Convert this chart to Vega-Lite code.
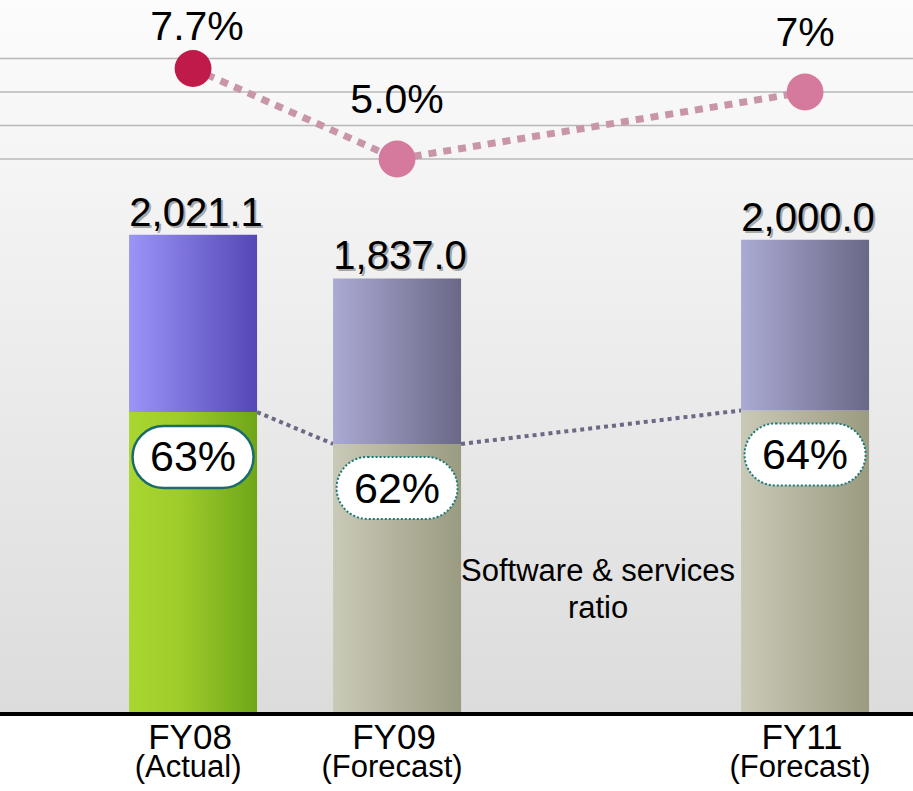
{
  "$schema": "https://vega.github.io/schema/vega-lite/v6.json",
  "width": 913,
  "height": 714,
  "autosize": {"type": "none"},
  "padding": {"left": 0, "top": 0, "right": 0, "bottom": 77},
  "background": "white",
  "config": {"view": {"stroke": null}, "font": "Liberation Sans"},
  "datasets": {
    "bars": [
      {"cat": "FY08", "note": "(Actual)", "status": "Actual", "total": 2021.1, "sw": 1273.3, "ratio": 0.63, "margin": 7.7, "marginLabel": "7.7%"},
      {"cat": "FY09", "note": "(Forecast)", "status": "Forecast", "total": 1837.0, "sw": 1138.9, "ratio": 0.62, "margin": 5.0, "marginLabel": "5.0%"},
      {"cat": "FY11", "note": "(Forecast)", "status": "Forecast", "total": 2000.0, "sw": 1280.0, "ratio": 0.64, "margin": 7.0, "marginLabel": "7%"}
    ],
    "links": [
      {"from": "FY08", "to": "FY09", "a": 1273.3, "b": 1138.9},
      {"from": "FY09", "to": "FY11", "a": 1138.9, "b": 1280.0}
    ],
    "grid": [{"g": 5}, {"g": 6}, {"g": 7}, {"g": 8}]
  },
  "layer": [
    {
      "layer": [
        {
          "data": {"values": [{}]},
          "mark": {"type": "rect", "fill": {"gradient": "linear", "x1": 0, "y1": 0, "x2": 0, "y2": 1, "stops": [{"offset": 0, "color": "#fcfcfc"}, {"offset": 1, "color": "#dcdcdc"}]}},
          "encoding": {
            "y": {"datum": 0, "type": "quantitative", "scale": {"domain": [0, 3011], "nice": false, "zero": false}, "axis": null},
            "y2": {"datum": 3011}
          }
        },
        {
          "data": {"name": "links"},
          "mark": {"type": "rule", "color": "#6b6983", "strokeWidth": 4, "strokeDash": [4, 4]},
          "encoding": {
            "x": {"field": "from", "type": "nominal", "bandPosition": 1, "title": null, "scale": {"domain": ["FY08", "FY09", "FY10", "FY11"], "paddingInner": 0.3725, "paddingOuter": 0.424, "align": 0.746}},
            "x2": {"field": "to", "bandPosition": 0},
            "y": {"field": "a", "type": "quantitative", "scale": {"domain": [0, 3011], "nice": false, "zero": false}, "axis": null},
            "y2": {"field": "b"}
          }
        },
        {
          "data": {"name": "bars"},
          "transform": [{"filter": "datum.status === 'Actual'"}],
          "mark": {"type": "bar", "fill": {"gradient": "linear", "x1": 0, "y1": 0, "x2": 1, "y2": 0, "stops": [{"offset": 0, "color": "#a9d62f"}, {"offset": 0.4, "color": "#9fcc2a"}, {"offset": 1, "color": "#6ea619"}]}},
          "encoding": {
            "x": {"field": "cat", "type": "nominal", "title": null, "scale": {"domain": ["FY08", "FY09", "FY10", "FY11"], "paddingInner": 0.3725, "paddingOuter": 0.424, "align": 0.746},
              "axis": {"title": null, "domain": false, "ticks": false, "grid": false, "labelFontSize": 35, "labelPadding": 34, "labelBaseline": "alphabetic", "labelAlign": "center", "labelOffset": -3, "labelColor": "black", "labelFont": "Liberation Sans", "labelAngle": 0, "labelExpr": "datum.value == 'FY10' ? '' : datum.label"}},
            "y": {"field": "sw", "type": "quantitative", "scale": {"domain": [0, 3011], "nice": false, "zero": false}, "axis": null},
            "y2": {"datum": 0}
          }
        },
        {
          "data": {"name": "bars"},
          "transform": [{"filter": "datum.status === 'Actual'"}],
          "mark": {"type": "bar", "fill": {"gradient": "linear", "x1": 0, "y1": 0, "x2": 1, "y2": 0, "stops": [{"offset": 0, "color": "#9b95f7"}, {"offset": 1, "color": "#5447b6"}]}},
          "encoding": {
            "x": {"field": "cat", "type": "nominal", "title": null, "scale": {"domain": ["FY08", "FY09", "FY10", "FY11"], "paddingInner": 0.3725, "paddingOuter": 0.424, "align": 0.746}},
            "y": {"field": "total", "type": "quantitative", "scale": {"domain": [0, 3011], "nice": false, "zero": false}, "axis": null},
            "y2": {"field": "sw"}
          }
        },
        {
          "data": {"name": "bars"},
          "transform": [{"filter": "datum.status === 'Forecast'"}],
          "mark": {"type": "bar", "fill": {"gradient": "linear", "x1": 0, "y1": 0, "x2": 1, "y2": 0, "stops": [{"offset": 0, "color": "#c9c9b7"}, {"offset": 1, "color": "#9b9b81"}]}},
          "encoding": {
            "x": {"field": "cat", "type": "nominal", "title": null, "scale": {"domain": ["FY08", "FY09", "FY10", "FY11"], "paddingInner": 0.3725, "paddingOuter": 0.424, "align": 0.746}},
            "y": {"field": "sw", "type": "quantitative", "scale": {"domain": [0, 3011], "nice": false, "zero": false}, "axis": null},
            "y2": {"datum": 0}
          }
        },
        {
          "data": {"name": "bars"},
          "transform": [{"filter": "datum.status === 'Forecast'"}],
          "mark": {"type": "bar", "fill": {"gradient": "linear", "x1": 0, "y1": 0, "x2": 1, "y2": 0, "stops": [{"offset": 0, "color": "#abaad3"}, {"offset": 1, "color": "#6a6887"}]}},
          "encoding": {
            "x": {"field": "cat", "type": "nominal", "title": null, "scale": {"domain": ["FY08", "FY09", "FY10", "FY11"], "paddingInner": 0.3725, "paddingOuter": 0.424, "align": 0.746}},
            "y": {"field": "total", "type": "quantitative", "scale": {"domain": [0, 3011], "nice": false, "zero": false}, "axis": null},
            "y2": {"field": "sw"}
          }
        },
        {
          "data": {"name": "bars"},
          "transform": [{"filter": "datum.status === 'Actual'"}],
          "mark": {"type": "bar", "width": 121, "cornerRadius": 31, "fill": "white", "stroke": "#1b6b6e", "strokeWidth": 2.5, "yOffset": 14, "y2Offset": 76},
          "encoding": {
            "x": {"field": "cat", "type": "nominal", "title": null, "scale": {"domain": ["FY08", "FY09", "FY10", "FY11"], "paddingInner": 0.3725, "paddingOuter": 0.424, "align": 0.746}},
            "y": {"field": "sw", "type": "quantitative", "scale": {"domain": [0, 3011], "nice": false, "zero": false}, "axis": null},
            "y2": {"field": "sw"}
          }
        },
        {
          "data": {"name": "bars"},
          "transform": [{"filter": "datum.status === 'Forecast'"}],
          "mark": {"type": "bar", "width": 121, "cornerRadius": 31, "fill": "white", "stroke": "#1b7a7a", "strokeWidth": 2, "strokeDash": [2, 2], "yOffset": 13, "y2Offset": 75},
          "encoding": {
            "x": {"field": "cat", "type": "nominal", "title": null, "scale": {"domain": ["FY08", "FY09", "FY10", "FY11"], "paddingInner": 0.3725, "paddingOuter": 0.424, "align": 0.746}},
            "y": {"field": "sw", "type": "quantitative", "scale": {"domain": [0, 3011], "nice": false, "zero": false}, "axis": null},
            "y2": {"field": "sw"}
          }
        },
        {
          "data": {"name": "bars"},
          "mark": {"type": "text", "fontSize": 43, "baseline": "middle", "dy": 46, "color": "black"},
          "encoding": {
            "x": {"field": "cat", "type": "nominal", "title": null, "scale": {"domain": ["FY08", "FY09", "FY10", "FY11"], "paddingInner": 0.3725, "paddingOuter": 0.424, "align": 0.746}},
            "y": {"field": "sw", "type": "quantitative", "scale": {"domain": [0, 3011], "nice": false, "zero": false}, "axis": null},
            "text": {"field": "ratio", "type": "quantitative", "format": ".0%"}
          }
        },
        {
          "data": {"name": "bars"},
          "mark": {"type": "text", "fontSize": 40, "baseline": "alphabetic", "dx": 5, "dy": -7, "color": "#a8a8a8"},
          "encoding": {
            "x": {"field": "cat", "type": "nominal", "title": null, "scale": {"domain": ["FY08", "FY09", "FY10", "FY11"], "paddingInner": 0.3725, "paddingOuter": 0.424, "align": 0.746}},
            "y": {"field": "total", "type": "quantitative", "scale": {"domain": [0, 3011], "nice": false, "zero": false}, "axis": null},
            "text": {"field": "total", "type": "quantitative", "format": ",.1f"}
          }
        },
        {
          "data": {"name": "bars"},
          "mark": {"type": "text", "fontSize": 40, "baseline": "alphabetic", "dx": 3, "dy": -9, "color": "black"},
          "encoding": {
            "x": {"field": "cat", "type": "nominal", "title": null, "scale": {"domain": ["FY08", "FY09", "FY10", "FY11"], "paddingInner": 0.3725, "paddingOuter": 0.424, "align": 0.746}},
            "y": {"field": "total", "type": "quantitative", "scale": {"domain": [0, 3011], "nice": false, "zero": false}, "axis": null},
            "text": {"field": "total", "type": "quantitative", "format": ",.1f"}
          }
        },
        {
          "data": {"values": [{}]},
          "mark": {"type": "rule", "color": "black", "strokeWidth": 4},
          "encoding": {
            "y": {"datum": 0, "type": "quantitative", "scale": {"domain": [0, 3011], "nice": false, "zero": false}, "axis": null}
          }
        },
        {
          "data": {"name": "bars"},
          "mark": {"type": "text", "fontSize": 31, "baseline": "alphabetic", "dx": -5, "color": "black"},
          "encoding": {
            "x": {"field": "cat", "type": "nominal", "title": null, "scale": {"domain": ["FY08", "FY09", "FY10", "FY11"], "paddingInner": 0.3725, "paddingOuter": 0.424, "align": 0.746}},
            "y": {"datum": -266, "type": "quantitative", "scale": {"domain": [0, 3011], "nice": false, "zero": false}, "axis": null},
            "text": {"field": "note"}
          }
        },
        {
          "data": {"values": [{}]},
          "mark": {"type": "text", "fontSize": 31, "baseline": "middle", "lineBreak": "\n", "lineHeight": 37, "dx": -3, "color": "black", "text": "Software & services\nratio"},
          "encoding": {
            "x": {"datum": "FY10", "type": "nominal", "title": null, "scale": {"domain": ["FY08", "FY09", "FY10", "FY11"], "paddingInner": 0.3725, "paddingOuter": 0.424, "align": 0.746}},
            "y": {"datum": 600, "type": "quantitative", "scale": {"domain": [0, 3011], "nice": false, "zero": false}, "axis": null}
          }
        }
      ]
    },
    {
      "layer": [
        {
          "data": {"name": "grid"},
          "mark": {"type": "rule", "color": "#b8b8b8", "strokeWidth": 1.5},
          "encoding": {
            "y": {"field": "g", "type": "quantitative", "scale": {"domain": [-11.567, 9.746], "nice": false, "zero": false}, "axis": null}
          }
        },
        {
          "data": {"name": "bars"},
          "mark": {"type": "line", "color": "#c896a8", "strokeWidth": 7, "strokeDash": [8, 7]},
          "encoding": {
            "x": {"field": "cat", "type": "nominal", "title": null, "scale": {"domain": ["FY08", "FY09", "FY10", "FY11"], "paddingInner": 0.3725, "paddingOuter": 0.424, "align": 0.746}},
            "y": {"field": "margin", "type": "quantitative", "scale": {"domain": [-11.567, 9.746], "nice": false, "zero": false}, "axis": null}
          }
        },
        {
          "data": {"name": "bars"},
          "mark": {"type": "point", "filled": true, "size": 1360, "opacity": 1},
          "encoding": {
            "x": {"field": "cat", "type": "nominal", "title": null, "scale": {"domain": ["FY08", "FY09", "FY10", "FY11"], "paddingInner": 0.3725, "paddingOuter": 0.424, "align": 0.746}},
            "y": {"field": "margin", "type": "quantitative", "scale": {"domain": [-11.567, 9.746], "nice": false, "zero": false}, "axis": null},
            "color": {"field": "status", "type": "nominal", "scale": {"domain": ["Actual", "Forecast"], "range": ["#c01a48", "#d67a9d"]}, "legend": null}
          }
        },
        {
          "data": {"name": "bars"},
          "transform": [{"filter": "datum.status === 'Actual'"}],
          "mark": {"type": "text", "fontSize": 41, "baseline": "alphabetic", "dy": -29, "dx": 4, "color": "black"},
          "encoding": {
            "x": {"field": "cat", "type": "nominal", "title": null, "scale": {"domain": ["FY08", "FY09", "FY10", "FY11"], "paddingInner": 0.3725, "paddingOuter": 0.424, "align": 0.746}},
            "y": {"field": "margin", "type": "quantitative", "scale": {"domain": [-11.567, 9.746], "nice": false, "zero": false}, "axis": null},
            "text": {"field": "marginLabel"}
          }
        },
        {
          "data": {"name": "bars"},
          "transform": [{"filter": "datum.status === 'Forecast'"}],
          "mark": {"type": "text", "fontSize": 41, "baseline": "alphabetic", "dy": -46, "color": "black"},
          "encoding": {
            "x": {"field": "cat", "type": "nominal", "title": null, "scale": {"domain": ["FY08", "FY09", "FY10", "FY11"], "paddingInner": 0.3725, "paddingOuter": 0.424, "align": 0.746}},
            "y": {"field": "margin", "type": "quantitative", "scale": {"domain": [-11.567, 9.746], "nice": false, "zero": false}, "axis": null},
            "text": {"field": "marginLabel"}
          }
        }
      ]
    }
  ],
  "resolve": {"scale": {"y": "independent"}}
}
